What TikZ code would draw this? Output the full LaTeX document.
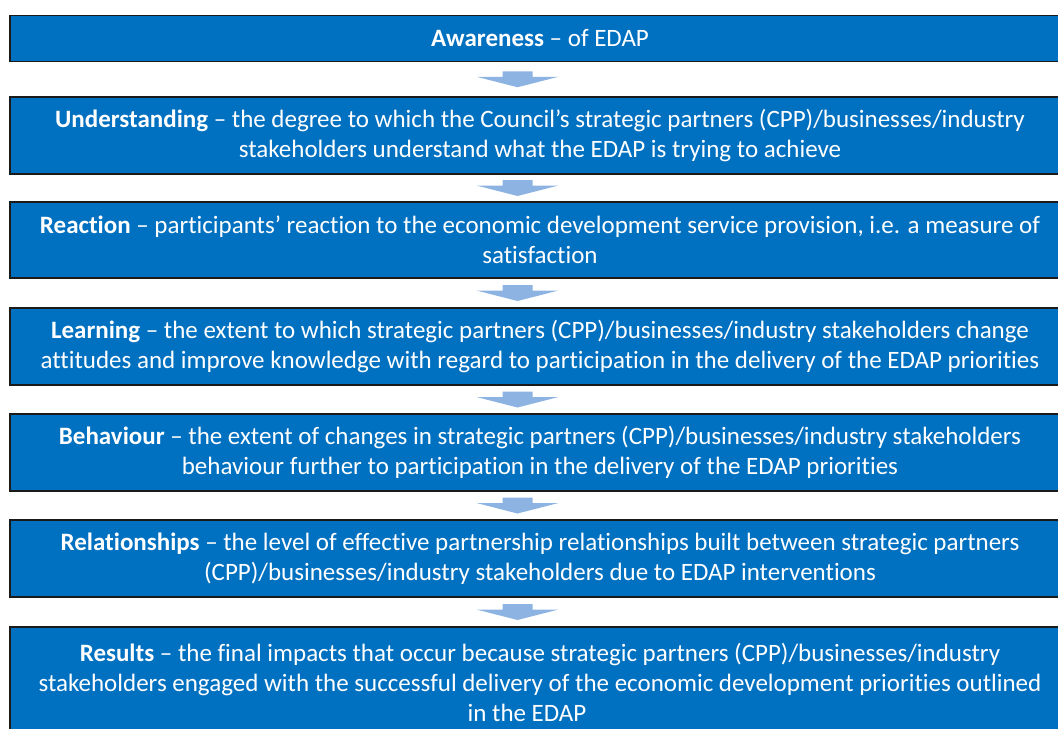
\documentclass[tikz,border=0pt]{standalone}
\usepackage{fontspec}
\setmainfont{Carlito}[Ligatures=NoCommon]
\usetikzlibrary{calc}
\definecolor{boxblue}{HTML}{0070C0}
\definecolor{arrblue}{HTML}{8DB3E2}
\definecolor{edge}{HTML}{1A1A1A}
\begin{document}
\begin{tikzpicture}[x=0.75pt,y=-0.75pt,
  stagebox/.style={rectangle, draw=edge, line width=0.8pt, fill=boxblue,
    text=white, align=center, minimum width=795pt, inner sep=0pt,
    font=\fontsize{18.75}{22.5}\selectfont},
  downarrow/.style={fill=arrblue, draw=none}]
\useasboundingbox (0,0) rectangle (1058,729);
\clip (0,0) rectangle (1058,729);
\node[stagebox, minimum height=34.5pt] (b1) at (540,38.5)
  {\textbf{Awareness} – of EDAP};
\node[stagebox, minimum height=57.75pt] (b2) at (540,135.5)
  {\textbf{Understanding} – the degree to which the Council’s strategic partners (CPP)/businesses/industry\\
   stakeholders understand what the EDAP is trying to achieve};
\node[stagebox, minimum height=57pt] (b3) at (540,240)
  {\textbf{Reaction} – participants’ reaction to the economic development service provision, i.e. a measure of\\
   satisfaction};
\node[stagebox, minimum height=57.75pt] (b4) at (540,346.5)
  {\textbf{Learning} – the extent to which strategic partners (CPP)/businesses/industry stakeholders change\\
   attitudes and improve knowledge with regard to participation in the delivery of the EDAP priorities};
\node[stagebox, minimum height=57.75pt] (b5) at (540,452.5)
  {\textbf{Behaviour} – the extent of changes in strategic partners (CPP)/businesses/industry stakeholders\\
   behaviour further to participation in the delivery of the EDAP priorities};
\node[stagebox, minimum height=57.75pt] (b6) at (540,558.5)
  {\textbf{Relationships} – the level of effective partnership relationships built between strategic partners\\
   (CPP)/businesses/industry stakeholders due to EDAP interventions};
\node[stagebox, minimum height=82.5pt] (b7) at (540,682)
  {\textbf{Results} – the final impacts that occur because strategic partners (CPP)/businesses/industry\\
   stakeholders engaged with the successful delivery of the economic development priorities outlined\\
   in the EDAP\hspace*{19.5pt}};
\foreach \a/\b in {b1/b2,b2/b3,b3/b4,b4/b5,b5/b6,b6/b7}{
  \coordinate (m) at ($(\a.south)!0.5!(\b.north)+(-22.5,0)$);
  \fill[downarrow, shift={(m)}] (-15,-8) -- (15,-8) -- (15,-2.5) -- (41,-2.5)
    -- (0,8) -- (-41,-2.5) -- (-15,-2.5) -- cycle;
}
\end{tikzpicture}
\end{document}
